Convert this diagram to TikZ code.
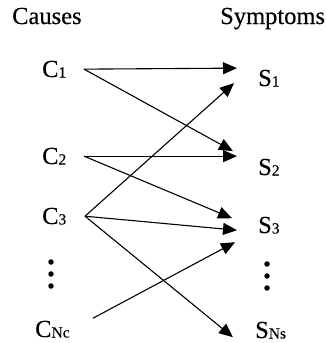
\documentclass[tikz,border=0pt]{standalone}
\usepackage{fontspec}
\setmainfont[FakeBold=0.4]{Liberation Serif}
\usetikzlibrary{arrows.meta}
\newcommand{\lowidx}[1]{\raisebox{-0.5pt}{\fontsize{15.5}{15.5}\selectfont #1}}
\tikzset{
  heading/.style={anchor=base west, inner sep=0pt, font=\fontsize{24.5}{24.5}\selectfont},
  var/.style={anchor=base west, inner sep=0pt, font=\fontsize{24.5}{24.5}\selectfont},
  link/.style={-{Triangle[length=14pt,width=12pt]}, line width=1.1pt},
  dot/.style={circle, fill=black, inner sep=0pt, minimum size=5.5pt}
}

\begin{document}
\begin{tikzpicture}[x=1pt, y=-1pt]
  \useasboundingbox (0,0) rectangle (326,343);

  % column headings
  \node[heading] (causes)   at (12,24) {Causes};
  \node[heading] (symptoms) at (220,24) {Symptoms};

  % causes
  \node[var] (c1) at (42,77)  {C\lowidx{1}};
  \node[var] (c2) at (42,164) {C\lowidx{2}};
  \node[var] (c3) at (42,224) {C\lowidx{3}};
  \node[var] (cn) at (35,337) {C\lowidx{Nc}};

  % symptoms
  \node[var] (s1) at (258,86)  {S\lowidx{1}};
  \node[var] (s2) at (258,175) {S\lowidx{2}};
  \node[var] (s3) at (258,233) {S\lowidx{3}};
  \node[var] (sn) at (255,338) {S\lowidx{Ns}};

  % vertical dots
  \foreach \y/\n in {262/1, 274/2, 286/3} {
    \node[dot] (ldot\n) at (51,\y) {};
    \node[dot] (rdot\n) at (267,\y+2) {};
  }

  \draw[link] ([xshift=42pt]c1.west) -- ([xshift=-21pt,yshift=10pt]s1.west);
  \draw[link] ([xshift=42pt]c1.west) -- ([xshift=-25pt,yshift=16pt]s2.west);
  \draw[link] ([xshift=42pt]c2.west) -- ([xshift=-21pt,yshift=11pt]s2.west);
  \draw[link] ([xshift=42pt]c2.west) -- ([xshift=-26pt,yshift=7pt]s3.west);
  \draw[link] ([xshift=43pt]c3.west) -- ([xshift=-24pt,yshift=-5pt]s1.west);
  \draw[link] ([xshift=43pt]c3.west) -- ([xshift=-21pt,yshift=-5pt]s3.west);
  \draw[link] ([xshift=43pt]c3.west) -- ([xshift=-22pt,yshift=-7pt]sn.west);
  \draw[link] ([xshift=58pt,yshift=11pt]cn.west) -- ([xshift=-23pt,yshift=-17pt]s3.west);
\end{tikzpicture}
\end{document}
